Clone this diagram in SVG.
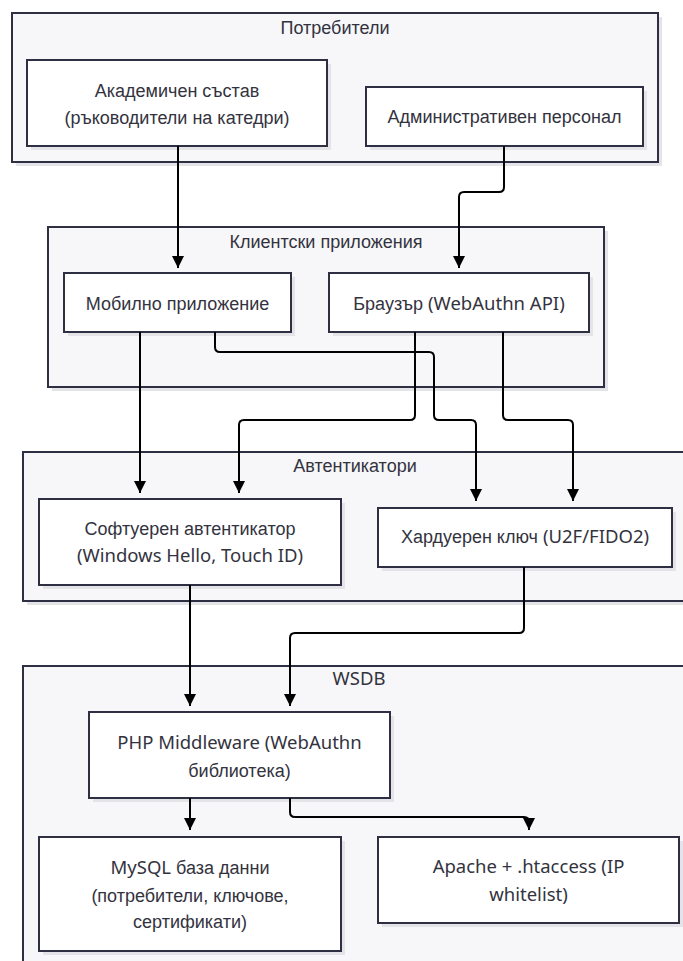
<svg xmlns="http://www.w3.org/2000/svg" width="683" height="961" viewBox="0 0 683 961">
<defs>
<style>
.bg{fill:#ffffff}
.cl{fill:#f7f7f9;stroke:#2f2f44;stroke-width:2}
.nd{fill:#ffffff;stroke:#2f2f44;stroke-width:2}
.sh{fill:#e4e4e8}
text{font-family:"Liberation Sans",Arial,sans-serif;font-size:18px;fill:#333340;text-anchor:middle}
.l{font-family:"Noto Sans","Open Sans",sans-serif;font-size:18.5px}
.ed{fill:none;stroke:#000000;stroke-width:2}
</style>
<marker id="ah" viewBox="0 0 12 12" refX="12" refY="6" markerWidth="12" markerHeight="12" markerUnits="userSpaceOnUse" orient="auto">
<path d="M0,0 L12,6 L0,12 z" fill="#000000"/>
</marker>
</defs>
<rect class="bg" x="0" y="0" width="683" height="961"/>

<g id="cluster-users">
<rect class="sh" x="16" y="17" width="646" height="149"/>
<rect class="cl" x="12" y="13" width="646" height="149"/>
<text x="335" y="34">Потребители</text>
</g>
<g id="cluster-clients">
<rect class="sh" x="52" y="231" width="556" height="160"/>
<rect class="cl" x="48" y="227" width="556" height="160"/>
<text x="326" y="248">Клиентски приложения</text>
</g>
<g id="cluster-auth">
<rect class="sh" x="27" y="456" width="680" height="149"/>
<rect class="cl" x="23" y="452" width="680" height="149"/>
<text x="355" y="472">Автентикатори</text>
</g>
<g id="cluster-wsdb">
<rect class="sh" x="27" y="670" width="680" height="320"/>
<rect class="cl" x="23" y="666" width="680" height="320"/>
<text x="359" y="685"><tspan class="l">WSDB</tspan></text>
</g>

<g id="node-academic">
<rect class="sh" x="31" y="64" width="300" height="86"/>
<rect class="nd" x="27" y="60" width="300" height="86"/>
<text x="177" y="97">Академичен състав</text>
<text x="177" y="124">(ръководители на катедри)</text>
</g>
<g id="node-admin">
<rect class="sh" x="370" y="91" width="277" height="59"/>
<rect class="nd" x="366" y="87" width="277" height="59"/>
<text x="504.5" y="123">Административен персонал</text>
</g>
<g id="node-mobile">
<rect class="sh" x="68" y="277" width="227" height="59"/>
<rect class="nd" x="64" y="273" width="227" height="59"/>
<text x="177.5" y="310">Мобилно приложение</text>
</g>
<g id="node-browser">
<rect class="sh" x="333" y="277" width="260" height="59"/>
<rect class="nd" x="329" y="273" width="260" height="59"/>
<text x="459" y="310">Браузър <tspan class="l">(WebAuthn API)</tspan></text>
</g>
<g id="node-soft">
<rect class="sh" x="43" y="503" width="302" height="86"/>
<rect class="nd" x="39" y="499" width="302" height="86"/>
<text x="190" y="535">Софтуерен автентикатор</text>
<text x="190" y="562"><tspan class="l">(Windows Hello, Touch ID)</tspan></text>
</g>
<g id="node-hw">
<rect class="sh" x="382" y="512" width="294" height="59"/>
<rect class="nd" x="378" y="508" width="294" height="59"/>
<text x="525" y="543">Хардуерен ключ <tspan class="l">(U2F/FIDO2)</tspan></text>
</g>
<g id="node-php">
<rect class="sh" x="93" y="716" width="301" height="86"/>
<rect class="nd" x="89" y="712" width="301" height="86"/>
<text x="239.5" y="749"><tspan class="l">PHP Middleware (WebAuthn</tspan></text>
<text x="239.5" y="777">библиотека)</text>
</g>
<g id="node-mysql">
<rect class="sh" x="43" y="841" width="302" height="114"/>
<rect class="nd" x="39" y="837" width="302" height="114"/>
<text x="190" y="874"><tspan class="l">MySQL</tspan> база данни</text>
<text x="190" y="902">(потребители, ключове,</text>
<text x="190" y="928">сертификати)</text>
</g>
<g id="node-apache">
<rect class="sh" x="382" y="841" width="301" height="86"/>
<rect class="nd" x="378" y="837" width="301" height="86"/>
<text x="528.5" y="873"><tspan class="l">Apache + .htaccess (IP</tspan></text>
<text x="528.5" y="901"><tspan class="l">whitelist)</tspan></text>
</g>

<g id="connectors">
<path class="ed" marker-end="url(#ah)" d="M178,146 V268"/>
<path class="ed" marker-end="url(#ah)" d="M504,146 V187 Q504,192 499,192 H464 Q459,192 459,197 V268"/>
<path class="ed" marker-end="url(#ah)" d="M140,332 V493"/>
<path class="ed" marker-end="url(#ah)" d="M215,332 V347 Q215,352 220,352 H429 Q434,352 434,357 V415 Q434,420 439,420 H471 Q476,420 476,425 V501"/>
<path class="ed" marker-end="url(#ah)" d="M415,332 V415 Q415,420 410,420 H244 Q239,420 239,425 V493"/>
<path class="ed" marker-end="url(#ah)" d="M503,332 V415 Q503,420 508,420 H568 Q573,420 573,425 V501"/>
<path class="ed" marker-end="url(#ah)" d="M190,585 V706"/>
<path class="ed" marker-end="url(#ah)" d="M524,567 V628 Q524,633 519,633 H295 Q290,633 290,638 V706"/>
<path class="ed" marker-end="url(#ah)" d="M190,798 V830"/>
<path class="ed" marker-end="url(#ah)" d="M290,798 V812 Q290,817 295,817 H524 Q529,817 529,822 V830"/>
</g>
</svg>
